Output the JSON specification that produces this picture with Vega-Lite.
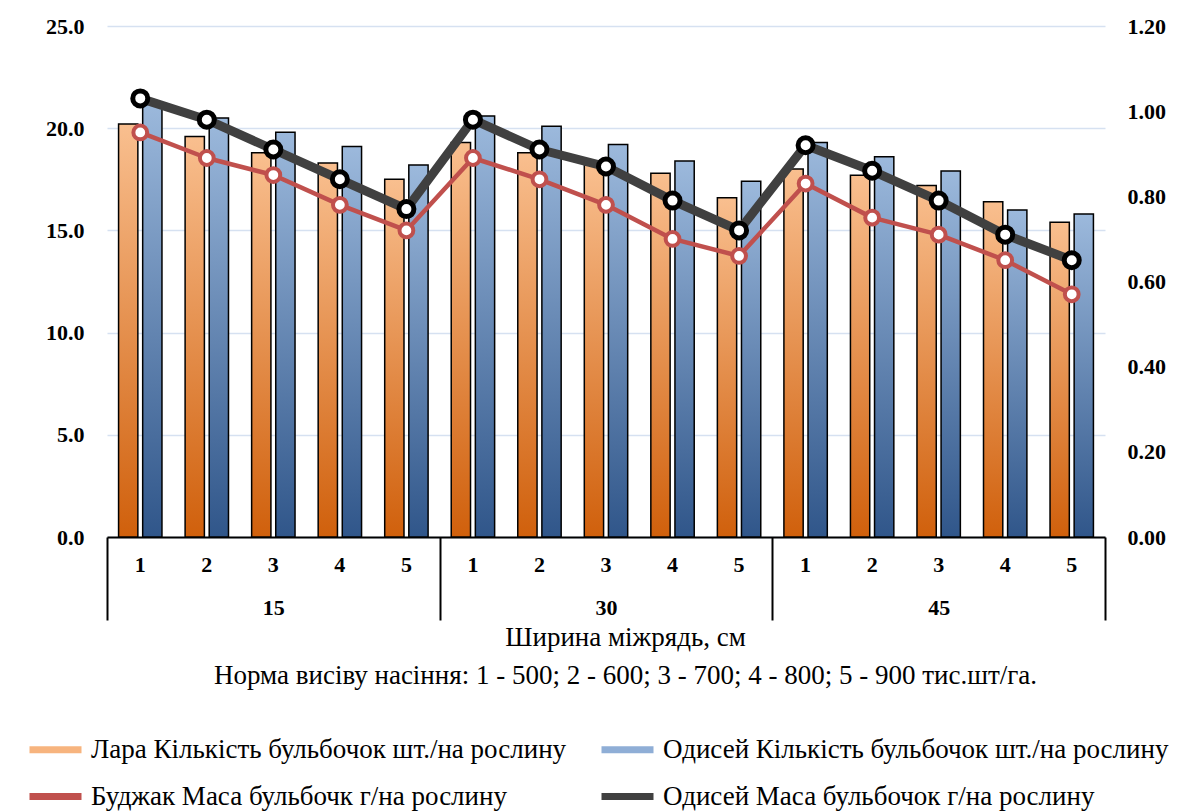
{
  "$schema": "https://vega.github.io/schema/vega-lite/v6.json",
  "autosize": "none",
  "width": 998,
  "height": 511,
  "padding": {"left": 107, "top": 26, "right": 73, "bottom": 274},
  "background": "white",
  "config": {
    "view": {"stroke": null},
    "font": "Liberation Serif"
  },
  "datasets": {
    "rows": [
      {"w": "15", "n": "1", "key": "15|1", "series": "Лара Кількість бульбочок шт./на рослину", "v": 20.2},
      {"w": "15", "n": "2", "key": "15|2", "series": "Лара Кількість бульбочок шт./на рослину", "v": 19.6},
      {"w": "15", "n": "3", "key": "15|3", "series": "Лара Кількість бульбочок шт./на рослину", "v": 18.8},
      {"w": "15", "n": "4", "key": "15|4", "series": "Лара Кількість бульбочок шт./на рослину", "v": 18.3},
      {"w": "15", "n": "5", "key": "15|5", "series": "Лара Кількість бульбочок шт./на рослину", "v": 17.5},
      {"w": "30", "n": "1", "key": "30|1", "series": "Лара Кількість бульбочок шт./на рослину", "v": 19.3},
      {"w": "30", "n": "2", "key": "30|2", "series": "Лара Кількість бульбочок шт./на рослину", "v": 18.8},
      {"w": "30", "n": "3", "key": "30|3", "series": "Лара Кількість бульбочок шт./на рослину", "v": 18.2},
      {"w": "30", "n": "4", "key": "30|4", "series": "Лара Кількість бульбочок шт./на рослину", "v": 17.8},
      {"w": "30", "n": "5", "key": "30|5", "series": "Лара Кількість бульбочок шт./на рослину", "v": 16.6},
      {"w": "45", "n": "1", "key": "45|1", "series": "Лара Кількість бульбочок шт./на рослину", "v": 18.0},
      {"w": "45", "n": "2", "key": "45|2", "series": "Лара Кількість бульбочок шт./на рослину", "v": 17.7},
      {"w": "45", "n": "3", "key": "45|3", "series": "Лара Кількість бульбочок шт./на рослину", "v": 17.2},
      {"w": "45", "n": "4", "key": "45|4", "series": "Лара Кількість бульбочок шт./на рослину", "v": 16.4},
      {"w": "45", "n": "5", "key": "45|5", "series": "Лара Кількість бульбочок шт./на рослину", "v": 15.4},
      {"w": "15", "n": "1", "key": "15|1", "series": "Одисей Кількість бульбочок шт./на рослину", "v": 21.3},
      {"w": "15", "n": "2", "key": "15|2", "series": "Одисей Кількість бульбочок шт./на рослину", "v": 20.5},
      {"w": "15", "n": "3", "key": "15|3", "series": "Одисей Кількість бульбочок шт./на рослину", "v": 19.8},
      {"w": "15", "n": "4", "key": "15|4", "series": "Одисей Кількість бульбочок шт./на рослину", "v": 19.1},
      {"w": "15", "n": "5", "key": "15|5", "series": "Одисей Кількість бульбочок шт./на рослину", "v": 18.2},
      {"w": "30", "n": "1", "key": "30|1", "series": "Одисей Кількість бульбочок шт./на рослину", "v": 20.6},
      {"w": "30", "n": "2", "key": "30|2", "series": "Одисей Кількість бульбочок шт./на рослину", "v": 20.1},
      {"w": "30", "n": "3", "key": "30|3", "series": "Одисей Кількість бульбочок шт./на рослину", "v": 19.2},
      {"w": "30", "n": "4", "key": "30|4", "series": "Одисей Кількість бульбочок шт./на рослину", "v": 18.4},
      {"w": "30", "n": "5", "key": "30|5", "series": "Одисей Кількість бульбочок шт./на рослину", "v": 17.4},
      {"w": "45", "n": "1", "key": "45|1", "series": "Одисей Кількість бульбочок шт./на рослину", "v": 19.3},
      {"w": "45", "n": "2", "key": "45|2", "series": "Одисей Кількість бульбочок шт./на рослину", "v": 18.6},
      {"w": "45", "n": "3", "key": "45|3", "series": "Одисей Кількість бульбочок шт./на рослину", "v": 17.9},
      {"w": "45", "n": "4", "key": "45|4", "series": "Одисей Кількість бульбочок шт./на рослину", "v": 16.0},
      {"w": "45", "n": "5", "key": "45|5", "series": "Одисей Кількість бульбочок шт./на рослину", "v": 15.8},
      {"w": "15", "n": "1", "key": "15|1", "series": "Буджак Маса бульбочк г/на рослину", "v": 0.95},
      {"w": "15", "n": "2", "key": "15|2", "series": "Буджак Маса бульбочк г/на рослину", "v": 0.89},
      {"w": "15", "n": "3", "key": "15|3", "series": "Буджак Маса бульбочк г/на рослину", "v": 0.85},
      {"w": "15", "n": "4", "key": "15|4", "series": "Буджак Маса бульбочк г/на рослину", "v": 0.78},
      {"w": "15", "n": "5", "key": "15|5", "series": "Буджак Маса бульбочк г/на рослину", "v": 0.72},
      {"w": "30", "n": "1", "key": "30|1", "series": "Буджак Маса бульбочк г/на рослину", "v": 0.89},
      {"w": "30", "n": "2", "key": "30|2", "series": "Буджак Маса бульбочк г/на рослину", "v": 0.84},
      {"w": "30", "n": "3", "key": "30|3", "series": "Буджак Маса бульбочк г/на рослину", "v": 0.78},
      {"w": "30", "n": "4", "key": "30|4", "series": "Буджак Маса бульбочк г/на рослину", "v": 0.70},
      {"w": "30", "n": "5", "key": "30|5", "series": "Буджак Маса бульбочк г/на рослину", "v": 0.66},
      {"w": "45", "n": "1", "key": "45|1", "series": "Буджак Маса бульбочк г/на рослину", "v": 0.83},
      {"w": "45", "n": "2", "key": "45|2", "series": "Буджак Маса бульбочк г/на рослину", "v": 0.75},
      {"w": "45", "n": "3", "key": "45|3", "series": "Буджак Маса бульбочк г/на рослину", "v": 0.71},
      {"w": "45", "n": "4", "key": "45|4", "series": "Буджак Маса бульбочк г/на рослину", "v": 0.65},
      {"w": "45", "n": "5", "key": "45|5", "series": "Буджак Маса бульбочк г/на рослину", "v": 0.57},
      {"w": "15", "n": "1", "key": "15|1", "series": "Одисей Маса бульбочок г/на рослину", "v": 1.03},
      {"w": "15", "n": "2", "key": "15|2", "series": "Одисей Маса бульбочок г/на рослину", "v": 0.98},
      {"w": "15", "n": "3", "key": "15|3", "series": "Одисей Маса бульбочок г/на рослину", "v": 0.91},
      {"w": "15", "n": "4", "key": "15|4", "series": "Одисей Маса бульбочок г/на рослину", "v": 0.84},
      {"w": "15", "n": "5", "key": "15|5", "series": "Одисей Маса бульбочок г/на рослину", "v": 0.77},
      {"w": "30", "n": "1", "key": "30|1", "series": "Одисей Маса бульбочок г/на рослину", "v": 0.98},
      {"w": "30", "n": "2", "key": "30|2", "series": "Одисей Маса бульбочок г/на рослину", "v": 0.91},
      {"w": "30", "n": "3", "key": "30|3", "series": "Одисей Маса бульбочок г/на рослину", "v": 0.87},
      {"w": "30", "n": "4", "key": "30|4", "series": "Одисей Маса бульбочок г/на рослину", "v": 0.79},
      {"w": "30", "n": "5", "key": "30|5", "series": "Одисей Маса бульбочок г/на рослину", "v": 0.72},
      {"w": "45", "n": "1", "key": "45|1", "series": "Одисей Маса бульбочок г/на рослину", "v": 0.92},
      {"w": "45", "n": "2", "key": "45|2", "series": "Одисей Маса бульбочок г/на рослину", "v": 0.86},
      {"w": "45", "n": "3", "key": "45|3", "series": "Одисей Маса бульбочок г/на рослину", "v": 0.79},
      {"w": "45", "n": "4", "key": "45|4", "series": "Одисей Маса бульбочок г/на рослину", "v": 0.71},
      {"w": "45", "n": "5", "key": "45|5", "series": "Одисей Маса бульбочок г/на рослину", "v": 0.65}
    ],
    "groups": [{"w": "15"}, {"w": "30"}, {"w": "45"}]
  },
  "resolve": {"scale": {"x": "independent", "y": "independent"}},
  "layer": [
    {
      "data": {"name": "rows"},
      "encoding": {
        "x": {
          "field": "key", "type": "ordinal",
          "scale": {"paddingInner": 0, "paddingOuter": 0},
          "axis": {
            "labelExpr": "slice(datum.value, -1)",
            "labelAngle": 0,
            "labelFont": "Liberation Serif", "labelFontWeight": "bold", "labelFontSize": 22, "labelColor": "black",
            "labelPadding": 17,
            "ticks": false,
            "domainColor": "black", "domainWidth": 2,
            "grid": false,
            "title": ["Ширина міжрядь, см", "Норма висіву насіння: 1 - 500; 2 - 600; 3 - 700; 4 -  800; 5 -  900 тис.шт/га."],
            "titleFont": "Liberation Serif", "titleFontSize": 27, "titleFontWeight": "normal", "titleColor": "black",
            "titleX": 518, "titleY": 87, "titleBaseline": "top", "titleAlign": "center", "titleLineHeight": 38
          }
        },
        "xOffset": {
          "field": "series", "type": "nominal",
          "scale": {"domain": ["Лара Кількість бульбочок шт./на рослину", "Одисей Кількість бульбочок шт./на рослину"], "paddingInner": 0.2, "paddingOuter": 0.48}
        },
        "y": {
          "field": "v", "type": "quantitative",
          "scale": {"domain": [0, 25], "nice": false},
          "axis": {
            "values": [0, 5, 10, 15, 20, 25], "format": ".1f",
            "labelFont": "Liberation Serif", "labelFontWeight": "bold", "labelFontSize": 22, "labelColor": "black",
            "labelPadding": 23, "ticks": false, "domain": false,
            "grid": true, "gridColor": "#D6E1F1", "gridWidth": 1.5,
            "title": null
          }
        }
      },
      "layer": [
        {
          "transform": [{"filter": "indexof(datum.series, 'Лара') >= 0"}],
          "mark": {"type": "bar", "stroke": "black", "strokeWidth": 1.5,
            "fill": {"gradient": "linear", "x1": 0, "y1": 0, "x2": 0, "y2": 1, "stops": [{"offset": 0, "color": "#F9BF8F"}, {"offset": 1, "color": "#D0600C"}]}}
        },
        {
          "transform": [{"filter": "indexof(datum.series, 'Одисей Кількість') >= 0"}],
          "mark": {"type": "bar", "stroke": "black", "strokeWidth": 1.5,
            "fill": {"gradient": "linear", "x1": 0, "y1": 0, "x2": 0, "y2": 1, "stops": [{"offset": 0, "color": "#9CB9DC"}, {"offset": 1, "color": "#30568A"}]}}
        }
      ]
    },
    {
      "data": {"name": "rows"},
      "transform": [{"filter": "indexof(datum.series, 'Маса') >= 0"}],
      "encoding": {
        "x": {"field": "key", "type": "ordinal", "scale": {"paddingInner": 0, "paddingOuter": 0}, "axis": null},
        "y": {
          "field": "v", "type": "quantitative",
          "scale": {"domain": [0, 1.2], "nice": false},
          "axis": {
            "orient": "right",
            "values": [0, 0.2, 0.4, 0.6, 0.8, 1.0, 1.2], "format": ".2f",
            "labelFont": "Liberation Serif", "labelFontWeight": "bold", "labelFontSize": 22, "labelColor": "black",
            "labelPadding": 22, "ticks": false, "domain": false, "grid": false,
            "title": null
          }
        }
      },
      "layer": [
        {
          "transform": [{"filter": "indexof(datum.series, 'Буджак') >= 0"}],
          "mark": {"type": "line", "strokeWidth": 4.5, "strokeJoin": "round", "strokeCap": "round"},
          "encoding": {
            "color": {
              "field": "series", "type": "nominal",
              "scale": {
                "domain": ["Лара Кількість бульбочок шт./на рослину", "Одисей Кількість бульбочок шт./на рослину", "Буджак Маса бульбочк г/на рослину", "Одисей Маса бульбочок г/на рослину"],
                "range": ["#F7B47E", "#8FAED6", "#C0504D", "#404040"]
              },
              "legend": {
                "orient": "none", "legendX": -81, "legendY": 694,
                "columns": 2, "direction": "horizontal", "title": null,
                "labelFont": "Liberation Serif", "labelFontSize": 27, "labelColor": "black", "labelLimit": 700,
                "labelOffset": 6, "columnPadding": 20, "rowPadding": 3,
                "symbolSize": 2704, "symbolStrokeWidth": 7
              }
            }
          }
        },
        {
          "transform": [{"filter": "indexof(datum.series, 'Одисей') >= 0"}],
          "mark": {"type": "line", "strokeWidth": 9, "strokeJoin": "round", "strokeCap": "round"},
          "encoding": {"color": {"field": "series", "type": "nominal"}}
        },
        {
          "transform": [{"filter": "indexof(datum.series, 'Буджак') >= 0"}],
          "mark": {"type": "point", "shape": "circle", "filled": true, "fill": "white", "stroke": "#C0504D", "strokeWidth": 4, "size": 190, "opacity": 1}
        },
        {
          "transform": [{"filter": "indexof(datum.series, 'Одисей') >= 0"}],
          "mark": {"type": "point", "shape": "circle", "filled": true, "fill": "white", "stroke": "black", "strokeWidth": 5, "size": 225, "opacity": 1}
        }
      ]
    },
    {
      "data": {"name": "groups"},
      "mark": {"type": "point", "opacity": 0},
      "encoding": {
        "x": {
          "field": "w", "type": "ordinal",
          "scale": {"paddingInner": 0, "paddingOuter": 0},
          "axis": {
            "orient": "bottom", "offset": 0,
            "tickBand": "extent", "ticks": true, "tickSize": 83, "tickColor": "black", "tickWidth": 2,
            "domain": false, "grid": false,
            "labelAngle": 0, "labelFont": "Liberation Serif", "labelFontWeight": "bold", "labelFontSize": 22, "labelColor": "black",
            "labelPadding": -23,
            "title": null
          }
        }
      }
    }
  ]
}
